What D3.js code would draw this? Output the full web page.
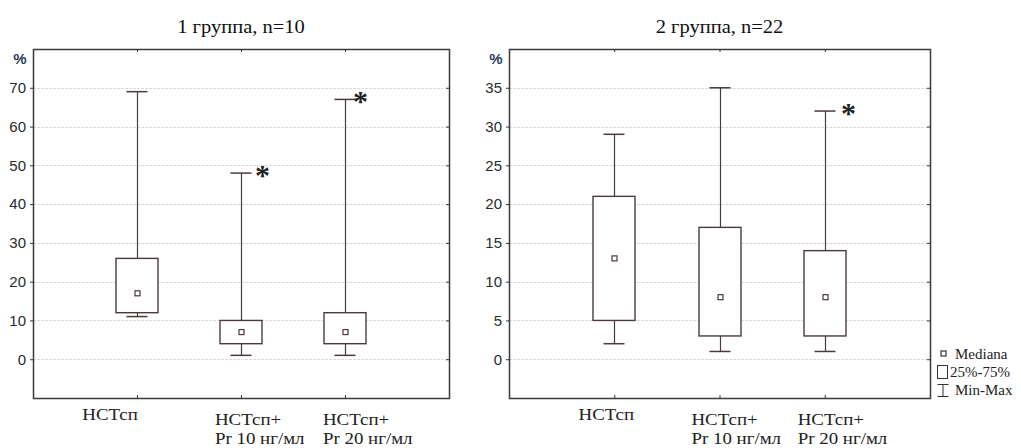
<!DOCTYPE html>
<html>
<head>
<meta charset="utf-8">
<script src="https://cdn.jsdelivr.net/npm/d3@7"></script>
<style>
  body { margin: 0; background: #fff; }
  svg { display: block; }
</style>
</head>
<body>
<div id="container"></div>
<script>
// категории по оси X (строки подписи)
var categories = ['НСТсп', 'НСТсп+Pr10', 'НСТсп+Pr20']
var categoryLines = [['НСТсп'], ['НСТсп+', 'Pr 10 нг/мл'], ['НСТсп+', 'Pr 20 нг/мл']]

// 1 группа
var g1Title = '1 группа, n=10'
var g1Min = [11, 1, 1]
var g1Q1 = [12, 4, 4]
var g1Median = [17, 7, 7]
var g1Q3 = [26, 10, 12]
var g1Max = [69, 48, 67]
var g1Star = [false, true, true]
var g1Ticks = [0, 10, 20, 30, 40, 50, 60, 70]
var g1Domain = [-10, 80]

// 2 группа
var g2Title = '2 группа, n=22'
var g2Min = [2, 1, 1]
var g2Q1 = [5, 3, 3]
var g2Median = [13, 8, 8]
var g2Q3 = [21, 17, 14]
var g2Max = [29, 35, 32]
var g2Star = [false, false, true]
var g2Ticks = [0, 5, 10, 15, 20, 25, 30, 35]
var g2Domain = [-5, 40]

var legendItems = ['Mediana', '25%-75%', 'Min-Max']

var W = 1021, H = 448
var lineColor = '#4a3a3a'
var serif = '"Liberation Serif", "Times New Roman", serif'
var sans = '"Liberation Sans", Arial, sans-serif'

var svg = d3.select('#container')
  .append('svg')
  .attr('width', W)
  .attr('height', H)

function drawPanel(opt) {
  var w = opt.width, h = 349
  var g = svg.append('g')
    .attr('transform', 'translate(' + opt.left + ',49)')

  var x = d3.scalePoint().domain(categories).range([0, w]).padding(1)
  var y = d3.scaleLinear().domain(opt.domain).range([h, 0])

  var rows = categories.map(function (c, i) {
    return { cat: c, min: opt.min[i], q1: opt.q1[i], med: opt.median[i], q3: opt.q3[i], max: opt.max[i], star: opt.star[i], lines: categoryLines[i], i: i }
  })

  // сетка
  g.append('g').selectAll('line')
    .data(opt.ticks)
    .enter().append('line')
    .attr('x1', 0).attr('x2', w)
    .attr('y1', d => Math.round(y(d)) + 0.5).attr('y2', d => Math.round(y(d)) + 0.5)
    .attr('stroke', '#dadada')
    .attr('stroke-dasharray', '3,1')

  // ось Y
  var yAxis = d3.axisLeft(y).tickValues(opt.ticks).tickSize(3).tickPadding(4)
  var ya = g.append('g').call(yAxis)
  ya.select('.domain').remove()
  ya.selectAll('line').attr('stroke', '#333')
  ya.selectAll('text').attr('font-family', sans).attr('font-size', 15).attr('fill', '#2b2b2b')

  // засечки справа и сверху/снизу
  g.append('g').attr('transform', 'translate(' + w + ',0)')
    .call(d3.axisLeft(y).tickValues(opt.ticks).tickSize(3).tickFormat(''))
    .call(s => s.select('.domain').remove())
    .selectAll('line').attr('stroke', '#333')
  g.append('g')
    .call(d3.axisBottom(x).tickSize(3).tickFormat(''))
    .call(s => s.select('.domain').remove())
    .selectAll('line').attr('stroke', '#333')
  g.append('g').attr('transform', 'translate(0,' + h + ')')
    .call(d3.axisTop(x).tickSize(3).tickFormat(''))
    .call(s => s.select('.domain').remove())
    .selectAll('line').attr('stroke', '#333')

  g.append('text')
    .attr('x', -13).attr('y', 15)
    .attr('text-anchor', 'middle')
    .attr('font-family', sans).attr('font-size', 15).attr('font-weight', 'bold')
    .attr('fill', '#263c5c')
    .text('%')

  // рамка
  g.append('rect')
    .attr('x', 0.5).attr('y', 0.5)
    .attr('width', w).attr('height', h)
    .attr('fill', 'none').attr('stroke', '#3a3a3a').attr('stroke-width', 1.5)

  var boxW = 42, capW = 21, medS = 5
  var box = g.append('g').selectAll('.box')
    .data(rows)
    .enter().append('g')
    .attr('class', 'box')
    .attr('transform', d => 'translate(' + Math.round(x(d.cat)) + ',0)')

  box.append('line')
    .attr('x1', 0.5).attr('x2', 0.5)
    .attr('y1', d => y(d.max)).attr('y2', d => y(d.q3))
    .attr('stroke', lineColor).attr('stroke-width', 1.2)
  box.append('line')
    .attr('x1', 0.5).attr('x2', 0.5)
    .attr('y1', d => y(d.q1)).attr('y2', d => y(d.min))
    .attr('stroke', lineColor).attr('stroke-width', 1.2)
  box.append('line')
    .attr('x1', -capW / 2).attr('x2', capW / 2)
    .attr('y1', d => y(d.max)).attr('y2', d => y(d.max))
    .attr('stroke', lineColor).attr('stroke-width', 1.5)
  box.append('line')
    .attr('x1', -capW / 2).attr('x2', capW / 2)
    .attr('y1', d => y(d.min)).attr('y2', d => y(d.min))
    .attr('stroke', lineColor).attr('stroke-width', 1.5)
  box.append('rect')
    .attr('x', -boxW / 2).attr('width', boxW)
    .attr('y', d => y(d.q3)).attr('height', d => y(d.q1) - y(d.q3))
    .attr('fill', '#fff').attr('stroke', lineColor).attr('stroke-width', 1.4)
  box.append('rect')
    .attr('x', -medS / 2 + 0.5).attr('width', medS)
    .attr('y', d => y(d.med) - medS / 2).attr('height', medS)
    .attr('fill', '#fff').attr('stroke', lineColor).attr('stroke-width', 1.2)

  // звёздочки
  box.filter(d => d.star)
    .append('text')
    .attr('x', d => capW / 2 + opt.starDx[d.i])
    .attr('y', d => y(d.max) + 12)
    .attr('text-anchor', 'middle')
    .attr('font-family', serif).attr('font-size', 30).attr('font-weight', 'bold')
    .attr('fill', '#222')
    .text('*')

  // подписи категорий
  var lab = g.append('g').selectAll('.lab')
    .data(rows)
    .enter().append('text')
    .attr('class', 'lab')
    .attr('font-family', serif).attr('font-size', 16).attr('fill', '#222')
    .attr('text-anchor', d => d.lines.length > 1 ? 'start' : 'middle')
    .attr('transform', d => 'translate(' + (x(d.cat) + opt.labelDx[d.i]) + ',' + (h + (d.lines.length > 1 ? 27 : 22)) + ') scale(1.18,1)')
  lab.selectAll('tspan')
    .data(d => d.lines)
    .enter().append('tspan')
    .attr('x', 0)
    .attr('dy', (d, i) => i ? 19 : 0)
    .text(d => d)

  // заголовок
  svg.append('text')
    .attr('transform', 'translate(' + (opt.left + w / 2) + ',33) scale(1.14,1)')
    .attr('text-anchor', 'middle')
    .attr('font-family', serif).attr('font-size', 18).attr('fill', '#111')
    .text(opt.title)
}

drawPanel({ left: 33, width: 416, title: g1Title, min: g1Min, q1: g1Q1, median: g1Median, q3: g1Q3, max: g1Max, star: g1Star, ticks: g1Ticks, domain: g1Domain, starDx: [0, 11, 5], labelDx: [-27, -26, -22] })
drawPanel({ left: 509, width: 421, title: g2Title, min: g2Min, q1: g2Q1, median: g2Median, q3: g2Q3, max: g2Max, star: g2Star, ticks: g2Ticks, domain: g2Domain, starDx: [0, 0, 13], labelDx: [-8, -28, -27] })

// легенда
var leg = svg.append('g').attr('transform', 'translate(937,346)')
var li = leg.selectAll('g')
  .data(legendItems)
  .enter().append('g')
  .attr('transform', (d, i) => 'translate(0,' + (i * 18) + ')')
li.append('text')
  .attr('x', (d, i) => i === 1 ? 13 : 18)
  .attr('y', 13)
  .attr('font-family', serif).attr('font-size', 15).attr('fill', '#222')
  .text(d => d)
li.filter((d, i) => i === 0).append('rect')
  .attr('x', 4).attr('y', 5).attr('width', 5).attr('height', 5)
  .attr('fill', '#fff').attr('stroke', '#333').attr('stroke-width', 1.2)
li.filter((d, i) => i === 1).append('rect')
  .attr('x', 0.5).attr('y', 1.5).attr('width', 10).attr('height', 13)
  .attr('fill', '#fff').attr('stroke', '#333')
li.filter((d, i) => i === 2).append('path')
  .attr('d', 'M0.5,2.5H11.5M6,2.5V14.5M0.5,14.5H11.5')
  .attr('fill', 'none').attr('stroke', '#333')
</script>
</body>
</html>
